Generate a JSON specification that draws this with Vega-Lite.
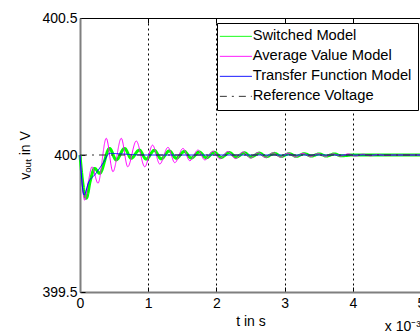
{
  "$schema": "https://vega.github.io/schema/vega-lite/v6.json",
  "width": 341,
  "height": 274,
  "autosize": {"type": "none"},
  "padding": {"left": 80, "top": 18, "right": 0, "bottom": 41},
  "background": "white",
  "config": {
    "font": "Liberation Sans",
    "view": {"stroke": "black", "strokeWidth": 1},
    "axis": {"labelFontSize": 14, "titleFontSize": 14, "labelColor": "black", "titleColor": "black", "titleFontWeight": "normal", "tickColor": "black", "domainColor": "#7f7f7f", "domainWidth": 2, "labelFont": "Liberation Sans", "titleFont": "Liberation Sans"},
    "legend": {"title": null, "orient": "none", "legendX": 137, "legendY": 5, "symbolType": "M-2.4615,0H2.4615", "symbolSize": 169, "symbolOffset": 5.5, "symbolStrokeWidth": 1, "labelFontSize": 14.7, "labelFont": "Liberation Sans", "labelColor": "black", "labelOffset": 9.5, "padding": 6, "strokeColor": "black", "fillColor": "white", "cornerRadius": 0, "rowPadding": 4, "labelLimit": 300}
  },
  "datasets": {
    "curves": [
      {"series": "Switched Model", "t": 0, "v": 400.0},
      {"series": "Switched Model", "t": 0.04, "v": 399.9},
      {"series": "Switched Model", "t": 0.093, "v": 399.842},
      {"series": "Switched Model", "t": 0.15, "v": 399.905},
      {"series": "Switched Model", "t": 0.215, "v": 399.951},
      {"series": "Switched Model", "t": 0.288, "v": 399.933},
      {"series": "Switched Model", "t": 0.434, "v": 400.024},
      {"series": "Switched Model", "t": 0.53, "v": 399.982},
      {"series": "Switched Model", "t": 0.654, "v": 400.024},
      {"series": "Switched Model", "t": 0.75, "v": 399.988},
      {"series": "Switched Model", "t": 0.87, "v": 400.018},
      {"series": "Switched Model", "t": 0.97, "v": 399.985},
      {"series": "Switched Model", "t": 1.09, "v": 400.017},
      {"series": "Switched Model", "t": 1.19, "v": 399.986},
      {"series": "Switched Model", "t": 1.31, "v": 400.015},
      {"series": "Switched Model", "t": 1.41, "v": 399.988},
      {"series": "Switched Model", "t": 1.53, "v": 400.013},
      {"series": "Switched Model", "t": 1.63, "v": 399.989},
      {"series": "Switched Model", "t": 1.75, "v": 400.011},
      {"series": "Switched Model", "t": 1.85, "v": 399.99},
      {"series": "Switched Model", "t": 1.97, "v": 400.01},
      {"series": "Switched Model", "t": 2.07, "v": 399.991},
      {"series": "Switched Model", "t": 2.19, "v": 400.009},
      {"series": "Switched Model", "t": 2.29, "v": 399.992},
      {"series": "Switched Model", "t": 2.41, "v": 400.008},
      {"series": "Switched Model", "t": 2.51, "v": 399.993},
      {"series": "Switched Model", "t": 2.63, "v": 400.007},
      {"series": "Switched Model", "t": 2.73, "v": 399.994},
      {"series": "Switched Model", "t": 2.85, "v": 400.006},
      {"series": "Switched Model", "t": 2.95, "v": 399.995},
      {"series": "Switched Model", "t": 3.07, "v": 400.005},
      {"series": "Switched Model", "t": 3.17, "v": 399.995},
      {"series": "Switched Model", "t": 3.29, "v": 400.005},
      {"series": "Switched Model", "t": 3.39, "v": 399.996},
      {"series": "Switched Model", "t": 3.51, "v": 400.004},
      {"series": "Switched Model", "t": 3.61, "v": 399.996},
      {"series": "Switched Model", "t": 3.73, "v": 400.004},
      {"series": "Switched Model", "t": 3.83, "v": 399.997},
      {"series": "Switched Model", "t": 4.0, "v": 400.0},
      {"series": "Switched Model", "t": 5.0, "v": 400.0},
      {"series": "Average Value Model", "t": 0, "v": 400.0},
      {"series": "Average Value Model", "t": 0.03, "v": 399.9},
      {"series": "Average Value Model", "t": 0.068, "v": 399.835},
      {"series": "Average Value Model", "t": 0.12, "v": 399.9},
      {"series": "Average Value Model", "t": 0.176, "v": 399.957},
      {"series": "Average Value Model", "t": 0.264, "v": 399.897},
      {"series": "Average Value Model", "t": 0.385, "v": 400.061},
      {"series": "Average Value Model", "t": 0.483, "v": 399.939},
      {"series": "Average Value Model", "t": 0.605, "v": 400.061},
      {"series": "Average Value Model", "t": 0.7, "v": 399.957},
      {"series": "Average Value Model", "t": 0.825, "v": 400.051},
      {"series": "Average Value Model", "t": 0.95, "v": 399.957},
      {"series": "Average Value Model", "t": 1.064, "v": 400.036},
      {"series": "Average Value Model", "t": 1.17, "v": 399.967},
      {"series": "Average Value Model", "t": 1.29, "v": 400.028},
      {"series": "Average Value Model", "t": 1.39, "v": 399.972},
      {"series": "Average Value Model", "t": 1.51, "v": 400.024},
      {"series": "Average Value Model", "t": 1.61, "v": 399.979},
      {"series": "Average Value Model", "t": 1.73, "v": 400.018},
      {"series": "Average Value Model", "t": 1.83, "v": 399.982},
      {"series": "Average Value Model", "t": 1.95, "v": 400.014},
      {"series": "Average Value Model", "t": 2.05, "v": 399.986},
      {"series": "Average Value Model", "t": 2.17, "v": 400.013},
      {"series": "Average Value Model", "t": 2.28, "v": 399.987},
      {"series": "Average Value Model", "t": 2.39, "v": 400.011},
      {"series": "Average Value Model", "t": 2.5, "v": 399.989},
      {"series": "Average Value Model", "t": 2.61, "v": 400.009},
      {"series": "Average Value Model", "t": 2.72, "v": 399.991},
      {"series": "Average Value Model", "t": 2.83, "v": 400.008},
      {"series": "Average Value Model", "t": 2.94, "v": 399.992},
      {"series": "Average Value Model", "t": 3.05, "v": 400.007},
      {"series": "Average Value Model", "t": 3.16, "v": 399.993},
      {"series": "Average Value Model", "t": 3.27, "v": 400.006},
      {"series": "Average Value Model", "t": 3.38, "v": 399.994},
      {"series": "Average Value Model", "t": 3.49, "v": 400.005},
      {"series": "Average Value Model", "t": 3.6, "v": 399.995},
      {"series": "Average Value Model", "t": 3.71, "v": 400.004},
      {"series": "Average Value Model", "t": 3.82, "v": 399.996},
      {"series": "Average Value Model", "t": 3.93, "v": 400.004},
      {"series": "Average Value Model", "t": 4.04, "v": 399.996},
      {"series": "Average Value Model", "t": 4.15, "v": 400.003},
      {"series": "Average Value Model", "t": 4.26, "v": 399.997},
      {"series": "Average Value Model", "t": 4.37, "v": 400.002},
      {"series": "Average Value Model", "t": 4.48, "v": 399.998},
      {"series": "Average Value Model", "t": 4.6, "v": 400.0},
      {"series": "Average Value Model", "t": 5.0, "v": 400.0},
      {"series": "Transfer Function Model", "t": 0, "v": 400.0},
      {"series": "Transfer Function Model", "t": 0.059, "v": 399.854},
      {"series": "Transfer Function Model", "t": 0.13, "v": 399.903},
      {"series": "Transfer Function Model", "t": 0.215, "v": 399.927},
      {"series": "Transfer Function Model", "t": 0.337, "v": 399.97},
      {"series": "Transfer Function Model", "t": 0.434, "v": 400.006},
      {"series": "Transfer Function Model", "t": 0.6, "v": 400.004},
      {"series": "Transfer Function Model", "t": 0.8, "v": 400.001},
      {"series": "Transfer Function Model", "t": 1.0, "v": 400.0},
      {"series": "Transfer Function Model", "t": 5.0, "v": 400.0},
      {"series": "Reference Voltage", "t": 0, "v": 400.0},
      {"series": "Reference Voltage", "t": 5.0, "v": 400.0}
    ],
    "note": [{"label": "x 10⁻³"}]
  },
  "layer": [
    {
      "data": {"name": "curves"},
      "transform": [{"filter": "datum.series == 'Switched Model'"}],
      "mark": {"type": "line", "interpolate": "monotone"},
      "encoding": {
        "x": {"field": "t", "type": "quantitative", "scale": {"domain": [0, 5], "nice": false, "zero": false},
          "axis": {"orient": "bottom", "values": [0, 1, 2, 3, 4, 5], "format": "d", "tickSize": -5, "labelPadding": 9, "grid": true, "gridDash": [2, 3], "gridColor": "black", "gridOpacity": 1, "gridWidth": 1, "title": "t in s", "titleY": 33, "titleBaseline": "alphabetic", "labelFlush": false, "labelOverlap": false}},
        "y": {"field": "v", "type": "quantitative", "scale": {"domain": [399.5, 400.5], "nice": false, "zero": false},
          "axis": {"values": [399.5, 400, 400.5], "format": "~g", "tickSize": -5, "labelPadding": 8, "grid": false, "title": "vₒᵤₜ in V", "titleX": -55, "titleY": 137, "titleAngle": -90, "titleAlign": "center", "titleBaseline": "middle"}},
        "strokeWidth": {"value": 3},
        "color": {"field": "series", "type": "nominal",
          "scale": {"domain": ["Switched Model", "Average Value Model", "Transfer Function Model", "Reference Voltage"], "range": ["#00ff00", "#ff00ff", "#0000ff", "#333333"]},
          "legend": {"symbolStrokeWidth": 1}},
        "strokeDash": {"field": "series", "type": "nominal",
          "scale": {"domain": ["Switched Model", "Average Value Model", "Transfer Function Model", "Reference Voltage"], "range": [[1, 0], [1, 0], [1, 0], [7, 5, 2, 5]]},
          "legend": {"symbolStrokeWidth": 1}}
      }
    },
    {
      "data": {"name": "curves"},
      "transform": [{"filter": "datum.series == 'Average Value Model'"}],
      "mark": {"type": "line", "interpolate": "monotone", "strokeWidth": 1},
      "encoding": {
        "x": {"field": "t", "type": "quantitative", "axis": null},
        "y": {"field": "v", "type": "quantitative"},
        "color": {"field": "series", "type": "nominal"},
        "strokeDash": {"field": "series", "type": "nominal"}
      }
    },
    {
      "data": {"name": "curves"},
      "transform": [{"filter": "datum.series == 'Transfer Function Model'"}],
      "mark": {"type": "line", "interpolate": "monotone", "strokeWidth": 1},
      "encoding": {
        "x": {"field": "t", "type": "quantitative", "axis": null},
        "y": {"field": "v", "type": "quantitative"},
        "color": {"field": "series", "type": "nominal"},
        "strokeDash": {"field": "series", "type": "nominal"}
      }
    },
    {
      "data": {"name": "curves"},
      "transform": [{"filter": "datum.series == 'Reference Voltage'"}],
      "mark": {"type": "line", "strokeWidth": 1},
      "encoding": {
        "x": {"field": "t", "type": "quantitative",
          "axis": {"orient": "top", "values": [0, 1, 2, 3, 4, 5], "labels": false, "title": null, "tickSize": -5, "grid": false, "domainColor": "black", "domainWidth": 1}},
        "y": {"field": "v", "type": "quantitative"},
        "color": {"field": "series", "type": "nominal"},
        "strokeDash": {"field": "series", "type": "nominal"}
      }
    },
    {
      "data": {"name": "note"},
      "mark": {"type": "text", "align": "left", "baseline": "alphabetic", "fontSize": 14, "font": "Liberation Sans", "color": "black"},
      "encoding": {
        "x": {"datum": 4.47, "type": "quantitative", "axis": null},
        "y": {"datum": 399.356, "type": "quantitative"},
        "text": {"field": "label", "type": "nominal"}
      }
    }
  ],
  "resolve": {"axis": {"x": "independent"}}
}
